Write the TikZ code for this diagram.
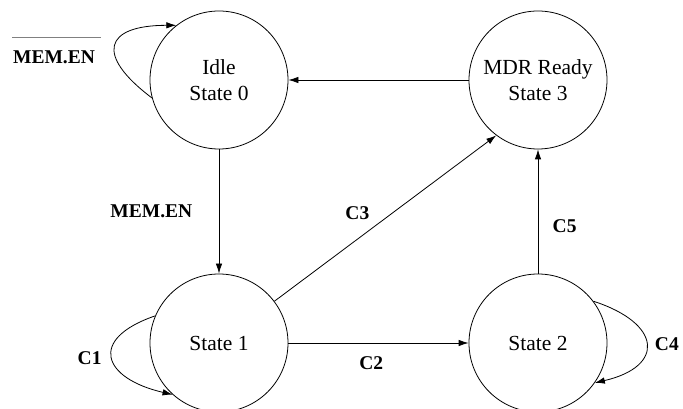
\documentclass[tikz,border=0pt]{standalone}
\usepackage{fontspec}
\setmainfont{Liberation Serif}
\usetikzlibrary{automata,positioning,arrows.meta}

\tikzset{
    every state/.style={draw,minimum size=138pt,inner sep=0pt,align=center,
        font=\fontsize{21.5}{26}\selectfont},
    lbl/.style={font=\fontsize{19.5}{23}\selectfont\bfseries},
}

\begin{document}
\begin{tikzpicture}[x=1pt,y=1pt,node distance=263pt,on grid,line width=0.8pt,
        >={Latex[length=10pt,width=6.5pt]}]
    \useasboundingbox (0,0) rectangle (683,409);
    \node[state] (idle) at (219,329) {Idle\\State 0};
    \node[state] (mdr) [right=319pt of idle] {MDR Ready\\State 3};
    \node[state] (s1) [below of=idle] {State 1};
    \node[state] (s2) [below of=mdr] {State 2};
    \path[->]
        (idle) edge node[lbl,left=23pt] {MEM.EN} (s1)
        (mdr) edge (idle)
        (s1.37) edge node[lbl,pos=0.53,left=19pt] {C3} (mdr.233)
        (s1) edge node[lbl,pos=0.46,below=10pt] {C2} (s2)
        (s2) edge node[lbl,pos=0.38,right=11pt] {C5} (mdr)
        (idle.195) edge[out=143,in=180,looseness=2.4] node[lbl,left=17pt,yshift=-12pt] (memen) {MEM.EN} (idle.128)
        (s1.157) edge[out=199,in=167,looseness=2.27] node[lbl,left=7pt] {C1} (s1.228)
        (s2.37) edge[out=-18,in=13,looseness=2.26] node[lbl,right=5pt] {C4} (s2.-35);
    % bar over the loop label
    \draw[gray] ([shift={(3pt,10pt)}]memen.north west) -- ++(89pt,0);
\end{tikzpicture}
\end{document}
